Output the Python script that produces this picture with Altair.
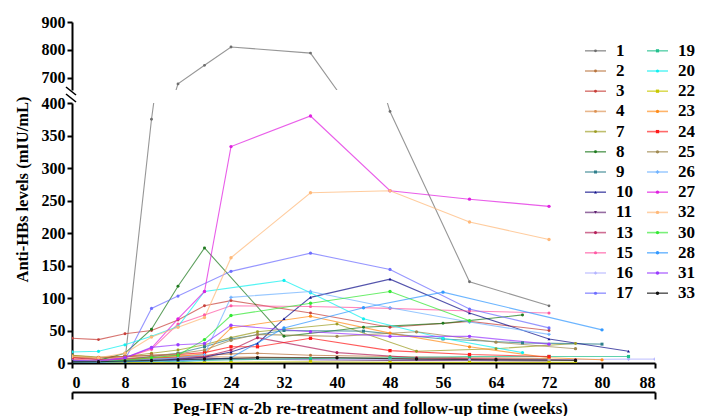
import altair as alt
import pandas as pd

# ---------------- data (weeks, anti-HBs mIU/mL) ----------------
S1_W = [0, 4, 8, 12, 16, 20, 24, 36, 48, 60, 72]
S1_V = [3, 2, 4, 375, 677, 744, 810, 788, 387, 125, 88]
S2_W = [0, 4, 8, 12, 16, 20, 24, 28, 36, 48, 60, 72]
S2_V = [9, 6, 7, 10, 12, 12, 14, 15, 12, 10, 8, 7]
S3_W = [0, 4, 8, 12, 16, 20, 24, 36, 48, 60, 72]
S3_V = [38, 36, 45, 50, 66, 88, 96, 77, 55, 64, 50]
S4_W = [0, 4, 8, 12, 16, 20, 24, 28, 36, 40, 52, 64, 76]
S4_V = [12, 8, 10, 8, 9, 10, 9, 9, 8, 8, 7, 6, 5]
S7_W = [0, 4, 8, 12, 16, 20, 24, 28, 40, 52, 64, 76]
S7_V = [12, 9, 10, 15, 20, 28, 39, 48, 60, 18, 22, 30]
S8_W = [0, 4, 8, 12, 16, 20, 32, 44, 56, 68]
S8_V = [2, 4, 15, 52, 118, 177, 41, 55, 61, 74]
S9_W = [0, 4, 8, 12, 16, 20, 24, 32, 44, 56, 68, 80]
S9_V = [3, 2, 5, 10, 15, 25, 37, 50, 49, 37, 31, 29]
S10_W = [0, 4, 8, 12, 16, 20, 24, 28, 32, 36, 48, 60, 72, 84]
S10_V = [1, 1, 2, 3, 6, 9, 17, 30, 68, 101, 129, 77, 37, 18]
S11_W = [0, 4, 8, 12, 16, 20, 24, 36, 48, 60, 72]
S11_V = [4, 3, 5, 6, 7, 8, 6, 5, 4, 4, 3]
S13_W = [0, 4, 8, 12, 16, 20, 24, 28, 40, 52, 64, 76]
S13_V = [8, 5, 6, 8, 9, 10, 20, 39, 16, 8, 6, 5]
S15_W = [0, 4, 8, 12, 16, 20, 24, 36, 48, 60, 72]
S15_V = [6, 4, 8, 21, 60, 74, 88, 87, 84, 80, 77]
S16_W = [0, 4, 8, 12, 16, 20, 24, 36, 48, 60, 72, 84, 88]
S16_V = [3, 2, 2, 3, 4, 5, 5, 6, 6, 5, 5, 6, 6]
S17_W = [0, 4, 8, 12, 16, 24, 36, 48, 60, 72]
S17_V = [2, 2, 5, 84, 103, 141, 169, 144, 83, 54]
S19_W = [0, 4, 8, 12, 16, 20, 24, 36, 48, 60, 72, 84]
S19_V = [2, 1, 2, 3, 2, 4, 5, 7, 8, 10, 10, 10]
S20_W = [0, 4, 8, 12, 16, 20, 32, 36, 44, 56, 68]
S20_V = [17, 18, 28, 41, 56, 110, 127, 108, 68, 38, 16]
S22_W = [0, 4, 8, 12, 16, 20, 24, 36, 48, 60, 72, 76]
S22_V = [2, 1, 1, 1, 0, 1, 1, 2, 1, 1, 1, 1]
S23_W = [0, 4, 8, 12, 16, 20, 24, 36, 48, 60, 72, 80]
S23_V = [5, 3, 5, 8, 10, 14, 54, 72, 46, 25, 8, 5]
S24_W = [0, 4, 8, 12, 16, 20, 24, 28, 36, 48, 60, 72]
S24_V = [8, 8, 10, 12, 13, 16, 25, 25, 38, 19, 13, 10]
S25_W = [0, 4, 8, 12, 16, 20, 24, 28, 40, 52, 64, 76]
S25_V = [10, 8, 10, 12, 14, 20, 35, 44, 41, 48, 32, 22]
S26_W = [0, 4, 8, 12, 16, 20, 24, 36, 48, 60, 72]
S26_V = [4, 3, 4, 5, 8, 13, 101, 110, 85, 63, 44]
S27_W = [0, 4, 8, 12, 16, 20, 24, 36, 48, 60, 72]
S27_V = [3, 2, 8, 23, 68, 110, 333, 380, 265, 252, 241]
S32_W = [0, 4, 8, 12, 16, 20, 24, 36, 48, 60, 72]
S32_V = [10, 8, 15, 40, 55, 70, 162, 262, 265, 217, 190]
S30_W = [0, 4, 8, 12, 16, 20, 24, 36, 48, 60]
S30_V = [3, 2, 4, 8, 12, 36, 73, 92, 110, 65]
S28_W = [0, 4, 8, 12, 16, 20, 24, 32, 44, 56, 80]
S28_V = [2, 1, 2, 3, 4, 5, 8, 54, 85, 109, 51]
S31_W = [0, 4, 8, 12, 16, 20, 24, 36, 48, 60, 72]
S31_V = [4, 3, 8, 24, 28, 30, 58, 48, 41, 41, 29]
S33_W = [0, 4, 8, 12, 16, 20, 24, 28, 40, 52, 64, 76]
S33_V = [2, 2, 3, 4, 5, 6, 7, 8, 8, 6, 5, 4]

SERIES = [
    ("1", S1_W, S1_V), ("2", S2_W, S2_V), ("3", S3_W, S3_V), ("4", S4_W, S4_V),
    ("7", S7_W, S7_V), ("8", S8_W, S8_V), ("9", S9_W, S9_V), ("10", S10_W, S10_V),
    ("11", S11_W, S11_V), ("13", S13_W, S13_V), ("15", S15_W, S15_V), ("16", S16_W, S16_V),
    ("17", S17_W, S17_V), ("19", S19_W, S19_V), ("20", S20_W, S20_V), ("22", S22_W, S22_V),
    ("23", S23_W, S23_V), ("24", S24_W, S24_V), ("25", S25_W, S25_V), ("26", S26_W, S26_V),
    ("27", S27_W, S27_V), ("32", S32_W, S32_V), ("30", S30_W, S30_V), ("28", S28_W, S28_V),
    ("31", S31_W, S31_V), ("33", S33_W, S33_V),
]

LEGEND_COL1 = ["1", "2", "3", "4", "7", "8", "9", "10", "11", "13", "15", "16", "17"]
LEGEND_COL2 = ["19", "20", "22", "23", "24", "25", "26", "27", "32", "30", "28", "31", "33"]

X_TICKS = [0, 8, 16, 24, 32, 40, 48, 56, 64, 72, 80, 88]
Y_TICKS_LOW = [0, 50, 100, 150, 200, 250, 300, 350, 400]
Y_TICKS_HIGH = [700, 800, 900]

Y_TITLE = "Anti-HBs levels (mIU/mL)"
X_TITLE = "Peg-IFN \u03b1-2b re-treatment and follow-up time (weeks)"

# ---------------- styles ----------------
IDS = [s[0] for s in SERIES]
COLORS = ["#6e6e6e", "#b8743e", "#c8403a", "#dc9050", "#9c9c22", "#1f7a1f", "#2f7f8c", "#12128c",
          "#5e1f70", "#b5225b", "#ff5aa5", "#b4b4ff", "#6e6eff", "#22c08e", "#10f0f0", "#c8c800",
          "#ff8c1a", "#ff1a1a", "#a08a52", "#6fb2ff", "#e020e0", "#ffb878", "#33e833", "#3399ff",
          "#9a3cff", "#111111"]
SHAPES = ["circle", "circle", "circle", "circle", "circle", "circle", "square", "triangle-up",
          "triangle-down", "circle", "circle", "cross", "circle", "square", "circle", "square",
          "circle", "square", "circle", "cross", "circle", "circle", "circle", "circle",
          "circle", "circle"]
SIZES = [8, 12, 10, 12, 18, 22, 26, 26, 24, 14, 12, 14, 22, 26, 24, 24, 18, 26, 14, 14, 18, 22,
         16, 10, 12, 16]

FONT = "Liberation Serif"

rows = []
for sid, ws, vs in SERIES:
    for w, v in zip(ws, vs):
        rows.append({"id": sid, "week": w, "value": v})
df = pd.DataFrame(rows)

leg_rows = []
for i, sid in enumerate(LEGEND_COL1):
    leg_rows.append({"id": sid, "col": 0, "row": i})
for i, sid in enumerate(LEGEND_COL2):
    leg_rows.append({"id": sid, "col": 1, "row": i})
leg = pd.DataFrame(leg_rows)

color = alt.Color("id:N", scale=alt.Scale(domain=IDS, range=COLORS), legend=None)
shape = alt.Shape("id:N", scale=alt.Scale(domain=IDS, range=SHAPES), legend=None)
size = alt.Size("id:N", scale=alt.Scale(domain=IDS, range=SIZES), legend=None)

W = 583
H_LOW = 260
H_HIGH = 68
LINE_OPACITY = 0.72

xscale = alt.Scale(domain=[0, 88], nice=False)

# ---------------- lower panel ----------------
ylow = alt.Scale(domain=[0, 400], nice=False)
ylow_axis = alt.Axis(values=Y_TICKS_LOW, title=Y_TITLE, titleAngle=-90, labelOverlap=False,
                     titleX=-49.5, titleY=86, titleAlign="center", titleBaseline="middle",
                     titleFontSize=16.5)
low_lines = alt.Chart(df).mark_line(strokeWidth=1.1, clip=True, opacity=LINE_OPACITY).encode(
    x=alt.X("week:Q", scale=xscale,
            axis=alt.Axis(values=X_TICKS, title=None, labelPadding=6, tickSize=5,
                          orient="bottom", labelOverlap=False)),
    y=alt.Y("value:Q", scale=ylow, axis=ylow_axis),
    color=color,
    detail="id:N",
)
low_points = alt.Chart(df).mark_point(filled=True, clip=True, opacity=1).encode(
    x=alt.X("week:Q", scale=xscale,
            axis=alt.Axis(values=[0, 88], labels=False, offset=29, tickSize=7, orient="bottom",
                          title=X_TITLE, titlePadding=0, titleFontSize=17, titleX=298)),
    y=alt.Y("value:Q", scale=ylow, axis=ylow_axis),
    color=color, shape=shape, size=size,
)
data_low = alt.layer(low_lines, low_points).resolve_axis(x="independent")

lx = alt.Scale(domain=[0, 100], range=[513, 613])
ly = alt.Scale(domain=[0, 12], range=[-52.2, 190.2])
leg_base = alt.Chart(leg).transform_calculate(
    x1="datum.col * 62", x2="datum.col * 62 + 21",
    xm="datum.col * 62 + 10.5", xt="datum.col * 62 + 31")
leg_rule = leg_base.mark_rule(strokeWidth=1.6, opacity=0.65).encode(
    x=alt.X("x1:Q", scale=lx, axis=None), x2="x2:Q",
    y=alt.Y("row:Q", scale=ly, axis=None), color=color)
leg_pts = leg_base.mark_point(filled=True, opacity=1).encode(
    x=alt.X("xm:Q", scale=lx, axis=None), y=alt.Y("row:Q", scale=ly, axis=None),
    color=color, shape=shape, size=size)
leg_txt = leg_base.mark_text(align="left", baseline="middle", font=FONT, fontSize=17,
                             fontWeight="bold", color="black").encode(
    x=alt.X("xt:Q", scale=lx, axis=None), y=alt.Y("row:Q", scale=ly, axis=None),
    text="id:N")
legend_layer = alt.layer(leg_rule, leg_pts, leg_txt)

brk = pd.DataFrame({"k": [0]})
brk1 = alt.Chart(brk).mark_rule(color="black", strokeWidth=1.6).encode(
    x=alt.value(-6), x2=alt.value(4), y=alt.value(-16), y2=alt.value(-8))
brk2 = alt.Chart(brk).mark_rule(color="black", strokeWidth=1.6).encode(
    x=alt.value(-6), x2=alt.value(4), y=alt.value(-9), y2=alt.value(-1))

lower = alt.layer(data_low, legend_layer, brk1, brk2).resolve_scale(
    x="independent", y="independent").properties(width=W, height=H_LOW)

# ---------------- upper panel ----------------
yhigh = alt.Scale(domain=[655, 900], nice=False)
yhigh_axis = alt.Axis(values=Y_TICKS_HIGH, title=None, labelOverlap=False)
up_lines = alt.Chart(df).mark_line(strokeWidth=1.1, clip=True, opacity=LINE_OPACITY).encode(
    x=alt.X("week:Q", scale=xscale, axis=None),
    y=alt.Y("value:Q", scale=yhigh, axis=yhigh_axis),
    color=color, detail="id:N")
up_points = alt.Chart(df).mark_point(filled=True, clip=True, opacity=1).encode(
    x=alt.X("week:Q", scale=xscale, axis=None),
    y=alt.Y("value:Q", scale=yhigh, axis=yhigh_axis),
    color=color, shape=shape, size=size)
upper = alt.layer(up_lines, up_points).properties(width=W, height=H_HIGH)

chart = alt.vconcat(upper, lower, spacing=13, bounds="flush").properties(
    padding={"left": 6, "top": 6, "right": 0, "bottom": 0}
).configure_view(stroke=None).configure_axis(
    grid=False, labelFont=FONT, labelFontWeight="bold", labelFontSize=16, labelColor="black",
    domainColor="black", domainWidth=2, tickColor="black", tickWidth=2, tickSize=5,
    labelPadding=2, titleFont=FONT, titleFontWeight="bold", titleFontSize=18, titleColor="black",
)

chart.save("out.html", embed_options={"renderer": "svg", "actions": False})
